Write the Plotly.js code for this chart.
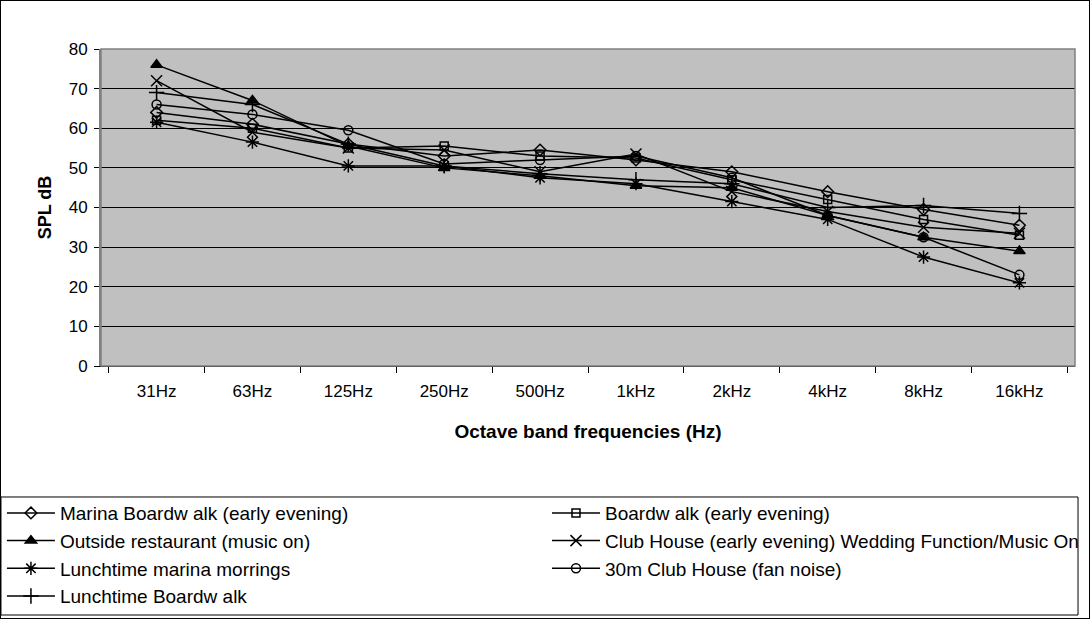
<!DOCTYPE html>
<html>
<head>
<meta charset="utf-8">
<script src="https://cdn.plot.ly/plotly-3.0.1.min.js"></script>
<style>
  html, body { margin: 0; padding: 0; background: #fff; }
  #chart { width: 1088px; height: 617px; border: 1px solid #000; }
</style>
</head>
<body>
<div id="chart"></div>
<script>
const categories = ["31Hz", "63Hz", "125Hz", "250Hz", "500Hz", "1kHz", "2kHz", "4kHz", "8kHz", "16kHz"];

const marinaBoardwalkEarly = [64, 61, 56, 53, 54.5, 52, 49, 44, 39.5, 35.5];
const boardwalkEarly       = [62, 60, 55, 55.5, 53, 52.5, 47, 42, 37, 33];
const outsideRestaurant    = [76, 67, 55.5, 50, 48, 45.5, 45, 38, 32.5, 29];
const clubHouseWedding     = [72, 59, 55, 54.5, 49, 53.5, 44, 39, 35, 33.5];
const lunchtimeMarina      = [61.5, 56.5, 50.5, 50.5, 47.5, 46, 41.5, 37, 27.5, 21];
const clubHouseFan         = [66, 63.5, 59.5, 51, 52, 53, 47.5, 38, 32.5, 23];
const lunchtimeBoardwalk   = [69, 66, 56, 50.5, 48.5, 47, 46, 40, 40.5, 38.5];

const seriesNames = [
  "Marina Boardw alk (early evening)",
  "Boardw alk (early evening)",
  "Outside restaurant (music on)",
  "Club House (early evening) Wedding Function/Music On",
  "Lunchtime marina morrings",
  "30m Club House (fan noise)",
  "Lunchtime Boardw alk"
];
const seriesValues = [marinaBoardwalkEarly, boardwalkEarly, outsideRestaurant, clubHouseWedding, lunchtimeMarina, clubHouseFan, lunchtimeBoardwalk];
const seriesSymbols = ["diamond-open", "square-open", "triangle-up", "x-thin-open", "asterisk-open", "circle-open", "cross-thin-open"];
const seriesSizes = [9, 8, 10, 11, 11, 9, 11];
const seriesLegend = ["legend", "legend2", "legend", "legend2", "legend", "legend2", "legend"];

const traces = seriesNames.map((name, i) => ({
  type: "scatter",
  mode: "lines+markers",
  name: name,
  legend: seriesLegend[i],
  x: categories,
  y: seriesValues[i],
  line: { color: "#000", width: 1.5 },
  marker: { symbol: seriesSymbols[i], size: seriesSizes[i], color: "#000", line: { color: "#000", width: 1.5 } }
}));

const legendCommon = {
  orientation: "v",
  xanchor: "left",
  y: -0.404,
  yanchor: "top",
  bgcolor: "rgba(0,0,0,0)",
  borderwidth: 0,
  itemwidth: 48,
  traceorder: "normal",
  font: { size: 19 }
};

const layout = {
  width: 1088,
  height: 617,
  margin: { l: 100, r: 14, t: 48, b: 252, autoexpand: false },
  paper_bgcolor: "#fff",
  plot_bgcolor: "#c0c0c0",
  font: { family: "Liberation Sans, Arial, sans-serif", color: "#000", size: 18 },
  showlegend: true,
  xaxis: {
    type: "category",
    tickson: "boundaries",
    ticks: "outside",
    ticklen: 6,
    tickcolor: "#000",
    ticklabelstandoff: 10,
    showgrid: false,
    showline: true,
    linecolor: "#000",
    linewidth: 1,
    tickfont: { size: 17 },
    title: { text: "<b>Octave band frequencies (Hz)</b>", font: { size: 19 }, standoff: 24 },
    fixedrange: true
  },
  yaxis: {
    range: [0, 80],
    dtick: 10,
    ticks: "outside",
    ticklen: 5,
    tickcolor: "#000",
    ticklabelstandoff: 3,
    showgrid: true,
    gridcolor: "#000",
    gridwidth: 1,
    zeroline: false,
    showline: true,
    linecolor: "#808080",
    linewidth: 2,
    mirror: false,
    tickfont: { size: 17 },
    title: { text: "<b>SPL dB</b>", font: { size: 18 }, standoff: 12 },
    fixedrange: true
  },
  shapes: [
    { type: "rect", xref: "paper", yref: "paper", x0: 0, x1: 1, y0: 0, y1: 1, line: { color: "#808080", width: 1.5 }, fillcolor: "rgba(0,0,0,0)" },
    { type: "rect", xref: "paper", yref: "paper", x0: -0.1027, x1: 1.0031, y0: -0.7855, y1: -0.4132, line: { color: "#000", width: 1 }, fillcolor: "rgba(0,0,0,0)" }
  ],
  legend: Object.assign({}, legendCommon, { x: -0.1017 }),
  legend2: Object.assign({}, legendCommon, { x: 0.4579 })
};

Plotly.newPlot("chart", traces, layout, { displayModeBar: false, staticPlot: true });
</script>
</body>
</html>
